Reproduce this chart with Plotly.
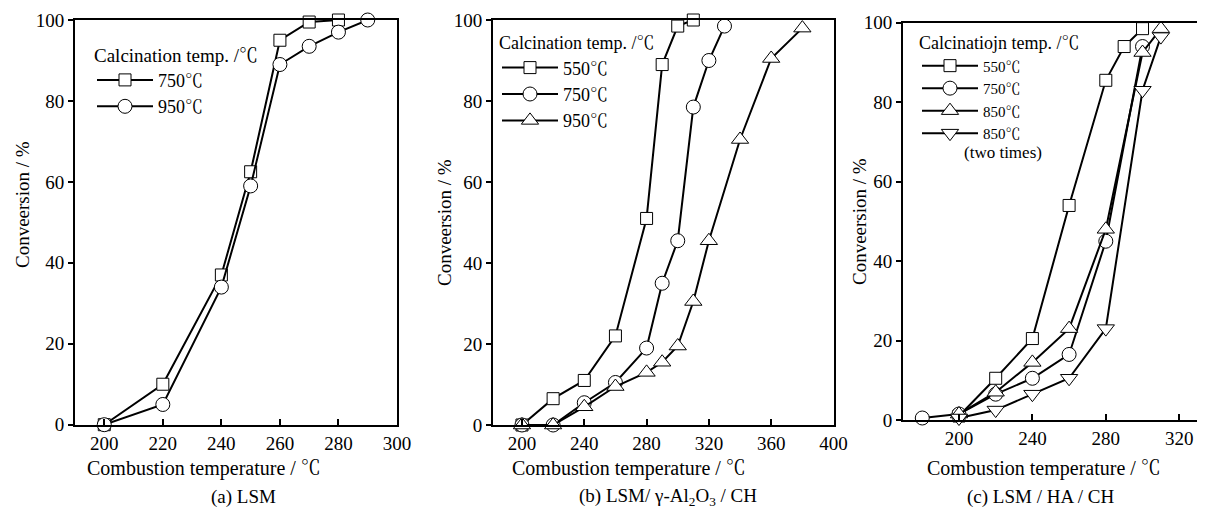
import plotly.graph_objects as go

# page body adds an 8px offset; figure is sized so the window shows it fully
OFF = 8
W, H = 1205 - OFF, 508 - OFF

# ---------------- data ----------------
a_x_750 = [200, 220, 240, 250, 260, 270, 280]
a_y_750 = [0, 10, 37, 62.5, 95, 99.5, 100]
a_x_950 = [200, 220, 240, 250, 260, 270, 280, 290]
a_y_950 = [0, 5, 34, 59, 89, 93.5, 97, 100]

b_x_550 = [200, 220, 240, 260, 280, 290, 300, 310]
b_y_550 = [0, 6.5, 11, 22, 51, 89, 98.5, 100]
b_x_750 = [200, 220, 240, 260, 280, 290, 300, 310, 320, 330]
b_y_750 = [0, 0, 5.5, 10.5, 19, 35, 45.5, 78.5, 90, 98.5]
b_x_950 = [200, 220, 240, 260, 280, 290, 300, 310, 320, 340, 360, 380]
b_y_950 = [0, 0, 4.5, 9.5, 13, 15.5, 19.5, 30.5, 45.5, 70.5, 90.5, 98]

c_x_550 = [200, 220, 240, 260, 280, 290, 300]
c_y_550 = [1, 10.5, 20.5, 54, 85.5, 94, 98.5]
c_x_750 = [180, 200, 220, 240, 260, 280, 300]
c_y_750 = [0.5, 1.5, 6.5, 10.5, 16.5, 45, 94]
c_x_850 = [200, 220, 240, 260, 280, 300, 310]
c_y_850 = [1.5, 7, 14.5, 23, 48, 92.5, 98.5]
c_x_850b = [200, 220, 240, 260, 280, 300, 310]
c_y_850b = [0.5, 2.5, 6.5, 10.5, 23, 83, 96.5]

a_ticks = [200, 220, 240, 260, 280, 300]
b_ticks = [200, 240, 280, 320, 360, 400]
c_ticks = [200, 240, 280, 320]
y_ticks = [0, 20, 40, 60, 80, 100]

FONT = "Liberation Serif, Noto Serif CJK JP, Noto Sans CJK JP, serif"


def px(xs):
    return (xs - OFF) / W


def py(ys):
    return 1 - (ys - OFF) / H


fig = go.Figure()

SYM = {"sq": ("square", 12), "ci": ("circle", 14),
       "tu": ("triangle-up", 15), "td": ("triangle-down", 15)}


def add(x, y, name, sym, xa, ya, leg):
    s, size = SYM[sym]
    fig.add_trace(go.Scatter(
        x=x, y=y, name=name, mode="lines+markers",
        xaxis=xa, yaxis=ya, legend=leg, legendgroup=leg + name + sym,
        line=dict(color="black", width=2),
        marker=dict(symbol=s, size=size, color="white",
                    line=dict(color="black", width=1)),
        cliponaxis=False,
    ))


add(a_x_750, a_y_750, "750℃", "sq", "x", "y", "legend")
add(a_x_950, a_y_950, "950℃", "ci", "x", "y", "legend")

add(b_x_550, b_y_550, "550℃", "sq", "x2", "y2", "legend2")
add(b_x_750, b_y_750, "750℃", "ci", "x2", "y2", "legend2")
add(b_x_950, b_y_950, "950℃", "tu", "x2", "y2", "legend2")

add(c_x_550, c_y_550, "550℃", "sq", "x3", "y3", "legend3")
add(c_x_750, c_y_750, "750℃", "ci", "x3", "y3", "legend3")
add(c_x_850, c_y_850, "850℃", "tu", "x3", "y3", "legend3")
add(c_x_850b, c_y_850b, "850℃", "td", "x3", "y3", "legend3")

axis_common = dict(showline=True, linecolor="black", linewidth=2, mirror=True,
                   showgrid=False, zeroline=False,
                   tickfont=dict(family=FONT, size=19, color="black"))

xa = dict(ticks="inside", ticklen=6, tickwidth=1.5, tickcolor="black", **axis_common)
ya = dict(ticks="outside", ticklen=5, tickwidth=1.5, tickcolor="black",
          range=[0, 100], tickvals=y_ticks, **axis_common)

layout = dict(
    width=W, height=H, margin=dict(l=0, r=0, t=0, b=0, autoexpand=False),
    paper_bgcolor="white", plot_bgcolor="white",
    font=dict(family=FONT, size=16, color="black"),
    xaxis=dict(domain=[px(75), px(397)], range=[190, 300], tickvals=a_ticks, anchor="y", **xa),
    yaxis=dict(domain=[py(424.7), py(20)], anchor="x", **ya),
    xaxis2=dict(domain=[px(493), px(833.5)], range=[181.4, 400], tickvals=b_ticks, anchor="y2", **xa),
    yaxis2=dict(domain=[py(425), py(20)], anchor="x2", **ya),
    xaxis3=dict(domain=[px(903), px(1204)], range=[169.5, 333.5], tickvals=c_ticks, anchor="y3", **xa),
    yaxis3=dict(domain=[py(420), py(22.7)], anchor="x3", **ya),
    showlegend=True,
)

leg_common = dict(bgcolor="rgba(0,0,0,0)", borderwidth=0, xanchor="left", yanchor="top",
                  traceorder="grouped", itemwidth=56)
layout["legend"] = dict(x=px(92), y=py(37), tracegroupgap=0,
                        font=dict(family=FONT, size=18, color="black"),
                        title=dict(text="Calcination temp. /℃", font=dict(family=FONT, size=19)),
                        **leg_common)
layout["legend2"] = dict(x=px(497), y=py(26), tracegroupgap=0,
                         font=dict(family=FONT, size=18, color="black"),
                         title=dict(text="Calcination temp. /℃", font=dict(family=FONT, size=18)),
                         **leg_common)
layout["legend3"] = dict(x=px(917), y=py(26), tracegroupgap=0,
                         font=dict(family=FONT, size=15, color="black"),
                         title=dict(text="Calcinatiojn temp. /℃", font=dict(family=FONT, size=18)),
                         **leg_common)

fig.update_layout(**layout)

ann = []


def text(x, y, t, angle=0, size=19, xanchor="center"):
    ann.append(dict(x=px(x), y=py(y), xref="paper", yref="paper", text=t, showarrow=False,
                    textangle=angle, xanchor=xanchor, yanchor="middle",
                    font=dict(family=FONT, size=size, color="black")))


text(22, 205, "Conveersion / %", angle=-90)
text(445, 223, "Conveersion / %", angle=-90)
text(860, 222, "Conveersion / %", angle=-90)

text(204, 468, "Combustion temperature / ℃", size=20)
text(629, 468, "Combustion temperature / ℃", size=20)
text(1044, 468, "Combustion temperature / ℃", size=20)

text(243, 497, "(a) LSM")
text(668, 497, "(b) LSM/ γ-Al<sub>2</sub>O<sub>3</sub> / CH")
text(1041, 497, "(c) LSM / HA / CH")

text(962, 152, "(two times)", size=17, xanchor="left")

fig.update_layout(annotations=ann)

fig.write_html("out.html")
